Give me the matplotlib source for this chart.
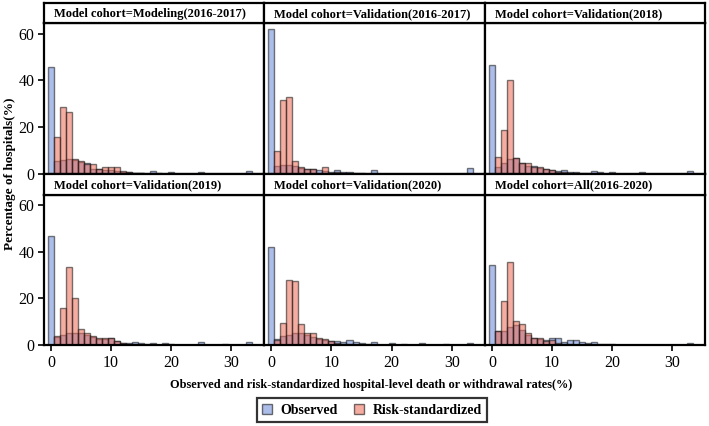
import matplotlib
matplotlib.use('Agg')
import matplotlib.pyplot as plt
from matplotlib.patches import Patch

# bins are 1 percentage point wide, centred on 0, 1, 2, ...
rate_bins = list(range(34))

cohorts = [
    'Modeling(2016-2017)', 'Validation(2016-2017)', 'Validation(2018)',
    'Validation(2019)', 'Validation(2020)', 'All(2016-2020)',
]

observed = {
    'Modeling(2016-2017)': [45.5, 5.5, 5.8, 6.5, 6.0, 5.3, 4.8, 2.0, 2.2, 1.8, 1.6, 1.2, 0.8, 0.7, 0.5, 0.4, 0.2,
                            1.3, 0.3, 0.2, 0.7, 0.0, 0.2, 0.0, 0.0, 0.7, 0.0, 0.0, 0.0, 0.2, 0.0, 0.0, 0.0, 1.3],
    'Validation(2016-2017)': [62.0, 3.5, 3.8, 4.0, 3.5, 2.5, 2.2, 2.0, 1.5, 1.2, 1.0, 1.5, 1.0, 0.8, 0.5, 0.3, 0.0,
                              1.5, 0.0, 0.0, 0.0, 0.2, 0.0, 0.0, 0.0, 0.2, 0.0, 0.0, 0.0, 0.2, 0.0, 0.0, 0.0, 2.5],
    'Validation(2018)': [46.4, 3.2, 4.5, 6.5, 6.8, 4.5, 3.5, 3.3, 2.5, 2.0, 1.8, 1.2, 1.5, 1.0, 0.8, 0.5, 0.3,
                         1.2, 0.8, 0.0, 0.8, 0.0, 0.2, 0.0, 0.0, 0.8, 0.0, 0.0, 0.0, 0.0, 0.0, 0.0, 0.0, 1.2],
    'Validation(2019)': [47.0, 3.5, 4.5, 5.3, 5.3, 5.0, 4.5, 3.5, 2.5, 2.5, 2.8, 1.8, 1.0, 0.8, 1.5, 0.8, 0.5,
                         0.8, 0.0, 0.7, 0.5, 0.0, 0.0, 0.0, 0.0, 1.3, 0.0, 0.0, 0.0, 0.3, 0.0, 0.0, 0.0, 1.3],
    'Validation(2020)': [42.0, 2.5, 4.0, 4.5, 5.0, 5.3, 4.5, 3.5, 2.5, 2.2, 1.8, 1.8, 1.5, 2.0, 1.2, 0.8, 0.3,
                         1.5, 0.0, 0.0, 1.0, 0.0, 0.3, 0.0, 0.0, 1.0, 0.0, 0.0, 0.0, 0.3, 0.0, 0.0, 0.0, 1.0],
    'All(2016-2020)': [34.2, 6.0, 6.0, 7.8, 8.5, 6.5, 4.5, 3.2, 2.5, 2.0, 2.8, 2.8, 1.5, 2.2, 2.2, 1.2, 0.8,
                       1.2, 0.5, 0.3, 0.5, 0.0, 0.2, 0.0, 0.0, 0.0, 0.0, 0.0, 0.0, 0.0, 0.0, 0.0, 0.0, 1.0],
}

risk_standardized = {
    'Modeling(2016-2017)': [0.0, 16.0, 28.8, 26.5, 6.2, 5.5, 4.2, 4.2, 2.2, 3.0, 2.8, 2.8, 1.2, 1.0, 0.5, 0.3, 0.0,
                            0, 0, 0, 0, 0, 0, 0, 0, 0, 0, 0, 0, 0, 0, 0, 0, 0],
    'Validation(2016-2017)': [0.0, 9.7, 31.8, 32.8, 5.4, 3.0, 2.0, 2.0, 0.5, 3.0, 0.5, 1.0, 0.5, 0.3, 0.0, 0.0, 0.0,
                              0, 0, 0, 0, 0, 0, 0, 0, 0, 0, 0, 0, 0, 0, 0, 0, 0],
    'Validation(2018)': [0.0, 7.4, 18.9, 40.0, 6.7, 4.8, 4.6, 3.2, 3.0, 2.2, 1.5, 1.0, 0.8, 0.5, 0.3, 0.0, 0.0,
                         0, 0, 0, 0, 0, 0, 0, 0, 0, 0, 0, 0, 0, 0, 0, 0, 0],
    'Validation(2019)': [0.0, 3.9, 15.7, 33.6, 20.0, 6.9, 5.3, 3.9, 2.9, 2.9, 2.9, 1.9, 0.8, 0.5, 0.3, 0.0, 0.0,
                         0, 0, 0, 0, 0, 0, 0, 0, 0, 0, 0, 0, 0, 0, 0, 0, 0],
    'Validation(2020)': [0.0, 2.1, 9.6, 27.9, 27.5, 8.9, 5.3, 5.3, 3.1, 2.4, 1.7, 1.0, 0.5, 0.3, 0.0, 0.0, 0.0,
                         0, 0, 0, 0, 0, 0, 0, 0, 0, 0, 0, 0, 0, 0, 0, 0, 0],
    'All(2016-2020)': [0.0, 6.0, 18.9, 35.8, 10.3, 8.9, 5.3, 3.1, 2.9, 1.7, 2.0, 1.0, 0.5, 0.3, 0.0, 0.0, 0.0,
                       0, 0, 0, 0, 0, 0, 0, 0, 0, 0, 0, 0, 0, 0, 0, 0, 0],
}

y_ticks = [0, 20, 40, 60]
x_ticks = [0, 10, 20, 30]

BLUE = '#6688d6'
RED = '#ee6a55'
SERIF = 'Liberation Serif'

W, H = 709, 426
fig = plt.figure(figsize=(W / 100, H / 100), dpi=100)


def px_axes(x0, y0, x1, y1):
    return fig.add_axes([x0 / W, 1 - y1 / H, (x1 - x0) / W, (y1 - y0) / H])


col_edges = [44, 264, 485, 705]
rows = [(3, 23, 174), (174, 195, 345)]

for i, cohort in enumerate(cohorts):
    r, c = divmod(i, 3)
    hy0, py0, py1 = rows[r]
    x0, x1 = col_edges[c], col_edges[c + 1]

    ax = px_axes(x0, py0, x1, py1)
    ax.bar(rate_bins, observed[cohort], width=1.0, color=BLUE, alpha=0.55,
           edgecolor='#111111', linewidth=1.0)
    ax.bar(rate_bins, risk_standardized[cohort], width=1.0, color=RED, alpha=0.55,
           edgecolor='#111111', linewidth=1.0)
    ax.set_xlim(-1.2, 35.5)
    ax.set_ylim(0, 64.5)
    ax.set_xticks(x_ticks)
    ax.set_yticks(y_ticks)
    for s in ax.spines.values():
        s.set_linewidth(1.6)
    ax.tick_params(direction='out', length=4, width=1.2, labelsize=11.5, pad=3)
    if c != 0:
        ax.tick_params(axis='y', left=False, labelleft=False)
    if r == 0:
        ax.tick_params(axis='x', bottom=False, labelbottom=False)
    for lab in ax.get_xticklabels() + ax.get_yticklabels():
        lab.set_fontfamily(SERIF)

    hax = px_axes(x0, hy0, x1, py0)
    hax.set_xticks([])
    hax.set_yticks([])
    for s in hax.spines.values():
        s.set_linewidth(1.6)
    hax.text(10 / (x1 - x0), 0.45, 'Model cohort=' + cohort, transform=hax.transAxes,
             ha='left', va='center', fontsize=9, fontweight='bold', family=SERIF)

fig.text(10 / W, 1 - 174 / H, 'Percentage of hospitals(%)', rotation=90, ha='center', va='center',
         fontsize=9.5, fontweight='bold', family=SERIF)
fig.text(371 / W, 1 - 385 / H,
         'Observed and risk-standardized hospital-level death or withdrawal rates(%)',
         ha='center', va='center', fontsize=8.8, fontweight='bold', family=SERIF)

handles = [Patch(facecolor=BLUE, alpha=0.55, edgecolor='black', label='Observed'),
           Patch(facecolor=RED, alpha=0.55, edgecolor='black', label='Risk-standardized')]
leg = fig.legend(handles=handles, loc='center', bbox_to_anchor=(372 / W, 1 - 410 / H), ncol=2,
                 fancybox=False, frameon=True, handlelength=0.7, handleheight=0.7,
                 handletextpad=0.6, columnspacing=1.2, borderpad=0.4,
                 prop={'family': SERIF, 'weight': 'bold', 'size': 10})
leg.get_frame().set_edgecolor('black')
leg.get_frame().set_linewidth(1.6)

fig.savefig('out.png', dpi=100)
